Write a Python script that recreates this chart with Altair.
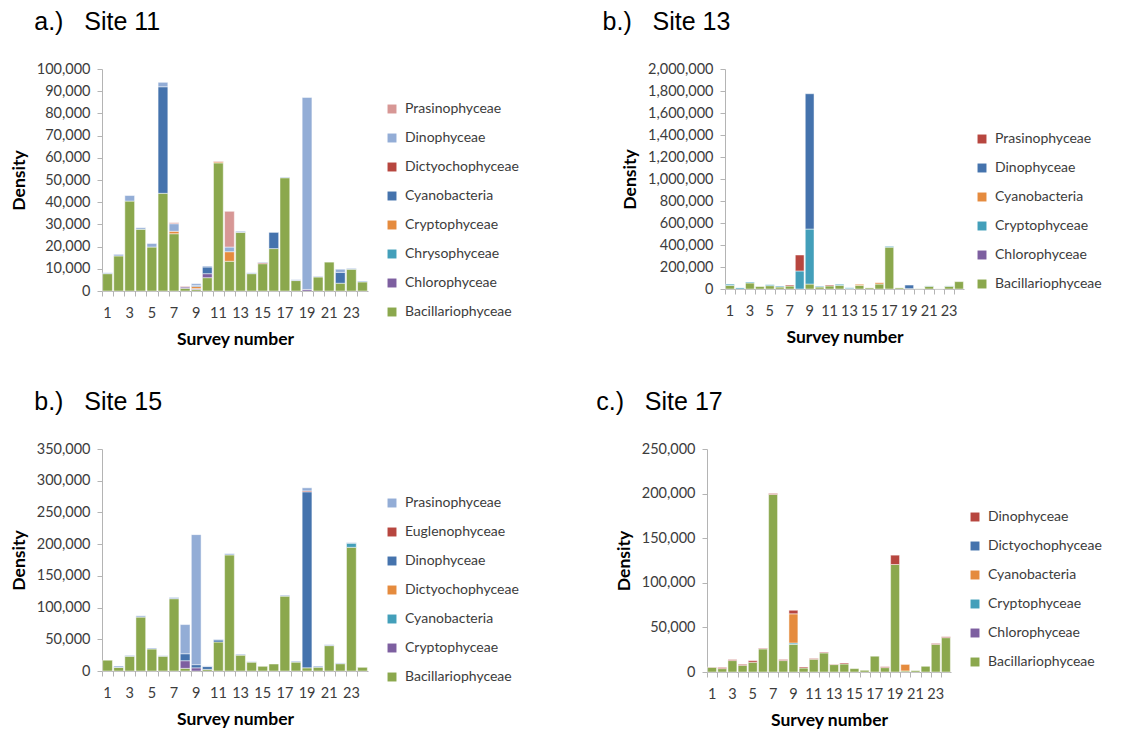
import altair as alt
import pandas as pd

SURVEYS = list(range(1, 25))
ODD_SURVEYS = list(range(1, 25, 2))

# ---- Site 11 densities per survey (bottom of stack first) ----
S11_BACILLARIO = [7800, 15800, 40500, 27800, 19800, 44000, 25800, 1200, 700, 6000, 57700, 13400,
                  26400, 7800, 12300, 19100, 51000, 4700, 0, 6300, 13000, 3500, 9800, 4100]
S11_CHLORO = [0, 0, 0, 0, 0, 0, 0, 600, 400, 1800, 0, 0, 0, 0, 0, 0, 0, 0, 700, 0, 0, 0, 0, 0]
S11_CHRYSO = [0] * 24
S11_CRYPTO = [0, 0, 0, 0, 0, 0, 1100, 0, 900, 0, 500, 4300, 0, 0, 0, 0, 0, 0, 0, 0, 0, 0, 0, 0]
S11_CYANO = [0, 0, 0, 0, 0, 48000, 0, 0, 500, 3000, 0, 0, 0, 0, 0, 7300, 0, 0, 0, 0, 0, 4900, 0, 0]
S11_DICTYO = [0, 0, 0, 0, 0, 0, 0, 200, 0, 0, 0, 0, 0, 0, 450, 0, 0, 0, 0, 0, 0, 0, 0, 0]
S11_DINO = [400, 700, 2500, 700, 1600, 2000, 3400, 0, 800, 450, 0, 2100,
            500, 400, 300, 0, 300, 400, 86500, 300, 0, 1400, 400, 400]
S11_PRASINO = [0, 0, 0, 0, 0, 0, 500, 0, 0, 0, 300, 16100, 0, 0, 0, 0, 0, 0, 0, 0, 0, 0, 0, 0]

# ---- Site 13 ----
S13_BACILLARIO = [32000, 0, 55000, 22000, 30000, 18000, 27000, 0, 45000, 18000, 28000, 33000,
                  3000, 33000, 10000, 45000, 380000, 10000, 3000, 2000, 25000, 1000, 25000, 67000]
S13_CHLORO = [0] * 24
S13_CRYPTO = [12000, 10000, 8000, 0, 9000, 8000, 0, 164000, 500000, 7000, 0, 10000,
              8000, 0, 0, 0, 8000, 0, 0, 0, 3000, 0, 3000, 0]
S13_CYANO = [0, 0, 0, 0, 0, 0, 0, 0, 0, 0, 0, 0, 0, 10000, 0, 12000, 0, 0, 0, 0, 0, 0, 0, 0]
S13_DINO = [0, 0, 0, 0, 0, 0, 0, 0, 1230000, 0, 0, 0, 0, 0, 0, 0, 0, 0, 33000, 0, 0, 0, 0, 0]
S13_PRASINO = [0, 0, 0, 0, 0, 0, 9000, 145000, 0, 0, 8000, 0, 0, 0, 0, 0, 0, 0, 0, 0, 0, 0, 0, 0]

# ---- Site 15 ----
S15_BACILLARIO = [17000, 5500, 23200, 85000, 34700, 23300, 114000, 4200, 0, 2500, 45700, 183000,
                  25000, 14000, 7400, 11000, 118000, 14000, 5000, 6000, 40000, 11500, 195000, 5800]
S15_CRYPTO = [0, 0, 0, 0, 0, 0, 0, 12000, 5000, 0, 0, 0, 0, 0, 0, 0, 0, 0, 0, 0, 0, 0, 0, 0]
S15_CYANO = [0, 0, 0, 0, 0, 0, 0, 0, 0, 0, 0, 0, 0, 0, 0, 0, 0, 0, 0, 0, 0, 0, 6500, 0]
S15_DICTYO = [0] * 24
S15_DINO = [0, 0, 0, 0, 0, 0, 0, 11000, 5000, 4500, 3200, 0, 0, 0, 0, 0, 0, 0, 277500, 0, 0, 0, 0, 0]
S15_EUGLENO = [0, 0, 0, 0, 0, 0, 0, 0, 0, 0, 0, 0, 0, 0, 0, 0, 0, 0, 1500, 0, 0, 0, 0, 0]
S15_PRASINO = [0, 2300, 1400, 2000, 1500, 900, 2000, 46000, 205000, 1000, 1000, 2000,
               1500, 800, 0, 0, 1500, 1500, 4800, 1800, 1500, 1200, 1000, 0]

# ---- Site 17 ----
S17_BACILLARIO = [5300, 3800, 12800, 7500, 10900, 25900, 199000, 12800, 31000, 4500, 14300, 21400,
                  8300, 9000, 3800, 1900, 17700, 4900, 120500, 1200, 1500, 6400, 31000, 38500]
S17_CHLORO = [0] * 24
S17_CRYPTO = [0, 0, 0, 0, 0, 0, 0, 0, 1500, 0, 0, 0, 0, 0, 0, 0, 0, 0, 0, 0, 0, 0, 0, 0]
S17_CYANO = [0, 0, 0, 0, 0, 0, 0, 0, 32700, 0, 0, 0, 0, 0, 0, 0, 0, 0, 0, 7300, 0, 0, 0, 0]
S17_DICTYO = [0] * 24
S17_DINO = [300, 1300, 1100, 1100, 1800, 700, 1000, 1200, 4000, 1100, 700, 800,
            500, 1100, 0, 0, 0, 1000, 10500, 0, 0, 0, 1000, 1000]

# Office-style palette
GREEN = "#8BA84D"
PURPLE = "#7D5FA0"
TEAL = "#439FBA"
ORANGE = "#E58B3E"
BLUE = "#4573AD"
RED = "#B7463F"
LIGHTBLUE = "#93ADD6"
PINK = "#D79795"

FONT = "Lato"
TITLE_FONT = "Liberation Sans"
TEXT = "#3C3C3C"
AXIS_GREY = "#B4B4B4"


def frame(series):
    rows = []
    for pos, (name, vals, _) in enumerate(series):
        for s, v in zip(SURVEYS, vals):
            if v > 0:
                rows.append({"survey": s, "group": name, "density": v, "stackpos": pos})
    return pd.DataFrame(rows)


def panel(title, title_dx, series, ymax, ystep, width, height, leg_x, leg_y):
    df = frame(series)
    names = [n for n, _, _ in series][::-1]
    colors = [c for _, _, c in series][::-1]
    xscale = alt.Scale(domain=SURVEYS, paddingInner=0.12, paddingOuter=0.06)

    bars = alt.Chart(df).mark_bar(stroke="white", strokeWidth=0.6, strokeOpacity=0.8).encode(
        x=alt.X(
            "survey:O",
            scale=xscale,
            axis=alt.Axis(
                values=ODD_SURVEYS, labelAngle=0, ticks=False, domain=False,
                labelFont=FONT, labelFontSize=14.5, labelColor=TEXT, labelPadding=15,
                title="Survey number", titleFont=FONT, titleFontSize=17.5,
                titleFontWeight="bold", titleColor="black", titlePadding=11,
            ),
        ),
        y=alt.Y(
            "density:Q",
            stack="zero",
            scale=alt.Scale(domain=[0, ymax], nice=False),
            axis=alt.Axis(
                values=list(range(0, ymax + 1, ystep)), format=",.0f", grid=False,
                domainColor=AXIS_GREY, tickColor=AXIS_GREY, tickSize=5,
                labelFont=FONT, labelFontSize=14.5, labelColor=TEXT, labelPadding=7,
                title="Density", titleFont=FONT, titleFontSize=17.5,
                titleFontWeight="bold", titleColor="black", titlePadding=8,
            ),
        ),
        color=alt.Color(
            "group:N",
            scale=alt.Scale(domain=names, range=colors),
            legend=alt.Legend(
                title=None, orient="none", legendX=leg_x, legendY=leg_y,
                symbolType="square", symbolSize=80, symbolStrokeWidth=0,
                labelFont=FONT, labelFontSize=14, labelColor=TEXT,
                labelOffset=6, rowPadding=15,
            ),
        ),
        order=alt.Order("stackpos:Q", sort="ascending"),
    )

    # category-boundary tick marks along the x axis
    ticks = alt.Chart(df).mark_point(opacity=0).encode(
        x=alt.X(
            "survey:O",
            scale=xscale,
            axis=alt.Axis(
                orient="bottom", bandPosition=0, labels=False, title=None,
                domainColor=AXIS_GREY, tickColor=AXIS_GREY, tickSize=5,
            ),
        )
    )

    return (
        alt.layer(bars, ticks)
        .resolve_axis(x="independent")
        .properties(
            width=width,
            height=height,
            title=alt.TitleParams(
                title, anchor="start", frame="bounds", font=TITLE_FONT, fontSize=25,
                fontWeight="normal", color="black", dx=title_dx, offset=26,
            ),
        )
    )


NBSP = "\u00a0"

site11 = panel(
    f"a.){NBSP*3}Site 11", 24,
    [("Bacillariophyceae", S11_BACILLARIO, GREEN),
     ("Chlorophyceae", S11_CHLORO, PURPLE),
     ("Chrysophyceae", S11_CHRYSO, TEAL),
     ("Cryptophyceae", S11_CRYPTO, ORANGE),
     ("Cyanobacteria", S11_CYANO, BLUE),
     ("Dictyochophyceae", S11_DICTYO, RED),
     ("Dinophyceae", S11_DINO, LIGHTBLUE),
     ("Prasinophyceae", S11_PRASINO, PINK)],
    100000, 10000, 266, 222, 283, 33,
)

site13 = panel(
    f"b.){NBSP*3}Site 13", -19,
    [("Bacillariophyceae", S13_BACILLARIO, GREEN),
     ("Chlorophyceae", S13_CHLORO, PURPLE),
     ("Cryptophyceae", S13_CRYPTO, TEAL),
     ("Cyanobacteria", S13_CYANO, ORANGE),
     ("Dinophyceae", S13_DINO, BLUE),
     ("Prasinophyceae", S13_PRASINO, RED)],
    2000000, 200000, 239, 220, 250, 63,
)

site15 = panel(
    f"b.){NBSP*3}Site 15", 24,
    [("Bacillariophyceae", S15_BACILLARIO, GREEN),
     ("Cryptophyceae", S15_CRYPTO, PURPLE),
     ("Cyanobacteria", S15_CYANO, TEAL),
     ("Dictyochophyceae", S15_DICTYO, ORANGE),
     ("Dinophyceae", S15_DINO, BLUE),
     ("Euglenophyceae", S15_EUGLENO, RED),
     ("Prasinophyceae", S15_PRASINO, LIGHTBLUE)],
    350000, 50000, 266, 222, 283, 47,
)

site17 = panel(
    f"c.){NBSP*3}Site 17", -19,
    [("Bacillariophyceae", S17_BACILLARIO, GREEN),
     ("Chlorophyceae", S17_CHLORO, PURPLE),
     ("Cryptophyceae", S17_CRYPTO, TEAL),
     ("Cyanobacteria", S17_CYANO, ORANGE),
     ("Dictyochophyceae", S17_DICTYO, BLUE),
     ("Dinophyceae", S17_DINO, RED)],
    250000, 50000, 244, 223, 261, 61,
)

row1 = alt.hconcat(site11, site13, spacing=83).resolve_scale(color="independent")
row2 = alt.hconcat(site15, site17, spacing=77).resolve_scale(color="independent")

chart = (
    alt.vconcat(row1, row2, spacing=42)
    .resolve_scale(color="independent")
    .configure_view(stroke=None)
    .properties(background="white", padding={"left": 10, "top": 10, "right": 5, "bottom": 5})
)

chart.save("out.html", embed_options={"renderer": "svg", "actions": False})
